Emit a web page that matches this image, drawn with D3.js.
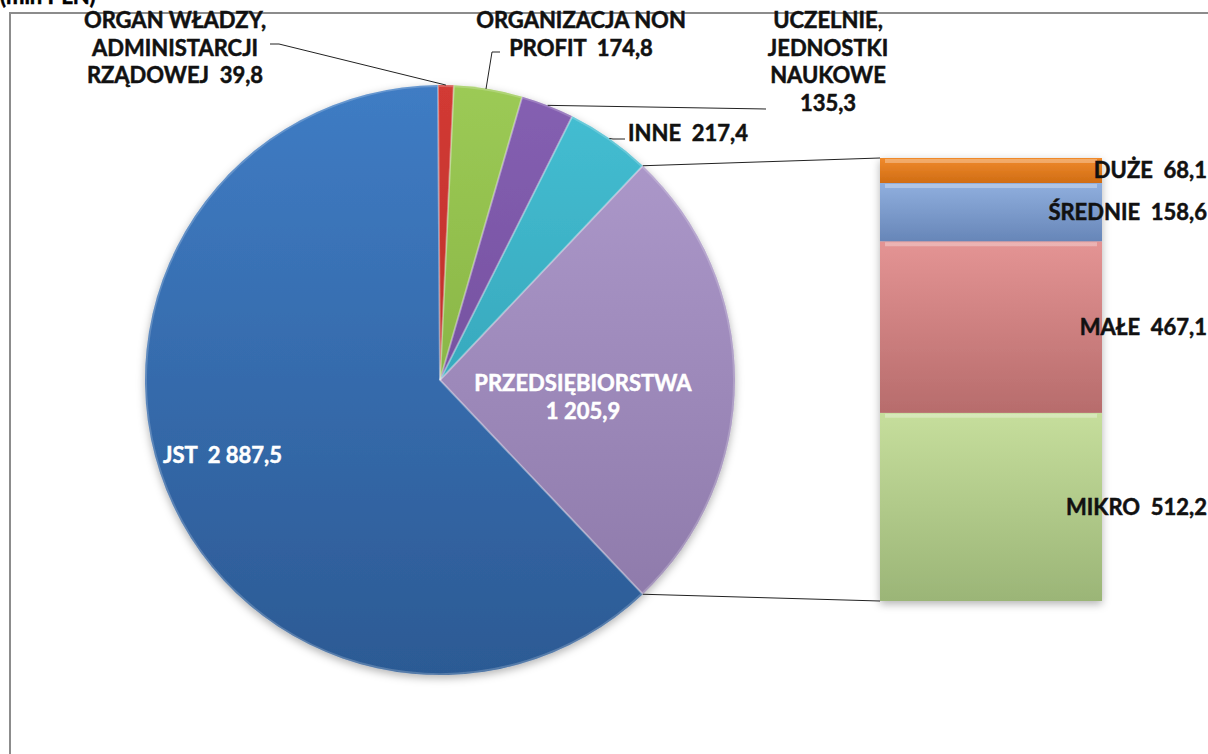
<!DOCTYPE html>
<html>
<head>
<meta charset="utf-8">
<script src="https://cdn.jsdelivr.net/npm/d3@7"></script>
<style>
  body { margin: 0; background: #fff; }
  svg { display: block; font-family: "Lato", "Open Sans", sans-serif; font-weight: bold; }
  text { white-space: pre; }
</style>
</head>
<body>
<script>
// pie slices (mln PLN), clockwise starting after the PRZEDSIĘBIORSTWA slice
const pieLabels = ["JST", "ORGAN WŁADZY, ADMINISTARCJI RZĄDOWEJ", "ORGANIZACJA NON PROFIT",
                   "UCZELNIE, JEDNOSTKI NAUKOWE", "INNE", "PRZEDSIĘBIORSTWA"];
const pieValues = [2887.5, 39.8, 174.8, 135.3, 217.4, 1205.9];
const pieTexts = ["2 887,5", "39,8", "174,8", "135,3", "217,4", "1 205,9"];

// breakdown of PRZEDSIĘBIORSTWA, bottom to top
const barLabels = ["MIKRO", "MAŁE", "ŚREDNIE", "DUŻE"];
const barValues = [512.2, 467.1, 158.6, 68.1];
const barTexts = ["512,2", "467,1", "158,6", "68,1"];

const W = 1208, H = 754;
const cx = 440, cy = 380, R = 295;
const FS = "22px";

const pieColors = [["#3f7cc4", "#2c5a94"], ["#d23a34", "#a82722"], ["#9cca55", "#78a23a"],
                   ["#8560b2", "#66438f"], ["#45bfd3", "#2a93a8"], ["#b09cce", "#8a76a6"]];
const barColors = [["#c6de9c", "#9bb577"], ["#e49494", "#b76c6c"], ["#90afde", "#6786b8"], ["#f08a2c", "#d06d14"]];

const svg = d3.select("body").append("svg")
    .attr("width", W)
    .attr("height", H);

const defs = svg.append("defs");

const shadow = defs.append("filter").attr("id", "shadow")
    .attr("x", "-10%").attr("y", "-10%").attr("width", "120%").attr("height", "120%");
shadow.append("feDropShadow").attr("dx", 0).attr("dy", 3).attr("stdDeviation", 4)
    .attr("flood-color", "#000").attr("flood-opacity", 0.3);

pieColors.forEach(function(c, i) {
    const g = defs.append("linearGradient").attr("id", "pg" + i)
        .attr("gradientUnits", "userSpaceOnUse")
        .attr("x1", 0).attr("y1", -R).attr("x2", 0).attr("y2", R);
    g.append("stop").attr("offset", "0%").attr("stop-color", c[0]);
    g.append("stop").attr("offset", "100%").attr("stop-color", c[1]);
});
barColors.forEach(function(c, i) {
    const g = defs.append("linearGradient").attr("id", "bg" + i)
        .attr("x1", 0).attr("y1", 0).attr("x2", 0).attr("y2", 1);
    g.append("stop").attr("offset", "0%").attr("stop-color", c[0]);
    g.append("stop").attr("offset", "100%").attr("stop-color", c[1]);
});

// cut-off title + frame
svg.append("text")
    .attr("x", 0).attr("y", 4)
    .attr("font-size", FS)
    .attr("fill", "#000")
    .attr("stroke", "#000").attr("stroke-width", 0.5)
    .text("(mln PLN)");

svg.append("rect")
    .attr("x", 10).attr("y", 13)
    .attr("width", W + 10).attr("height", H + 10)
    .attr("fill", "#fff")
    .attr("stroke", "#8c8c8c")
    .attr("stroke-width", 2);

// pie, PRZEDSIĘBIORSTWA centred on the right (90°)
const total = d3.sum(pieValues);
const lastAngle = pieValues[5] / total * 2 * Math.PI;
const start = Math.PI / 2 + lastAngle / 2;

const pie = d3.pie().sort(null).startAngle(start).endAngle(start + 2 * Math.PI);
const arcs = pie(pieValues);
const arc = d3.arc().innerRadius(0).outerRadius(R);

const gPie = svg.append("g").attr("transform", "translate(" + cx + "," + cy + ")");

gPie.append("g").attr("filter", "url(#shadow)")
    .selectAll("path")
    .data(arcs)
    .enter().append("path")
    .attr("d", arc)
    .attr("fill", function(d, i) { return "url(#pg" + i + ")"; });

// soft bevel on slice edges
gPie.append("g")
    .selectAll("path")
    .data(arcs)
    .enter().append("path")
    .attr("d", d3.arc().innerRadius(0).outerRadius(R - 1))
    .attr("fill", "none")
    .attr("stroke", "rgba(255,255,255,0.2)")
    .attr("stroke-width", 2);

// bar of pie
const barTop = 158, barBottom = 601, barX = 880, barW = 222;
const y = d3.scaleLinear().domain([0, d3.sum(barValues)]).range([barBottom, barTop]);
let acc = 0;
const stacks = barValues.map(function(v, i) {
    const s = { y0: acc, y1: acc + v, i: i };
    acc += v;
    return s;
});

const gBar = svg.append("g").attr("filter", "url(#shadow)");
gBar.selectAll("rect")
    .data(stacks)
    .enter().append("rect")
    .attr("x", barX)
    .attr("y", function(d) { return y(d.y1); })
    .attr("width", barW)
    .attr("height", function(d) { return y(d.y0) - y(d.y1); })
    .attr("fill", function(d) { return "url(#bg" + d.i + ")"; });

gBar.selectAll("line.hl")
    .data(stacks)
    .enter().append("line")
    .attr("x1", barX + 5).attr("x2", barX + barW - 5)
    .attr("y1", function(d) { return y(d.y1) + 3; })
    .attr("y2", function(d) { return y(d.y1) + 3; })
    .attr("stroke", "rgba(255,255,255,0.3)")
    .attr("stroke-width", 4);

// connector lines from the PRZEDSIĘBIORSTWA slice to the bar
const pa = arcs[5];
function edge(a) { return [cx + R * Math.sin(a), cy - R * Math.cos(a)]; }
const pTop = edge(pa.startAngle), pBot = edge(pa.endAngle);
svg.append("line")
    .attr("x1", pTop[0]).attr("y1", pTop[1]).attr("x2", barX).attr("y2", barTop)
    .attr("stroke", "#222").attr("stroke-width", 1);
svg.append("line")
    .attr("x1", pBot[0]).attr("y1", pBot[1]).attr("x2", barX).attr("y2", barBottom)
    .attr("stroke", "#222").attr("stroke-width", 1);

// bar labels
svg.append("g").selectAll("text")
    .data(stacks)
    .enter().append("text")
    .attr("x", 1207)
    .attr("y", function(d) { return (y(d.y0) + y(d.y1)) / 2; })
    .attr("dy", "0.35em")
    .attr("text-anchor", "end")
    .attr("font-size", FS)
    .attr("fill", "#111")
    .attr("stroke", "#111").attr("stroke-width", 0.5)
    .text(function(d) { return barLabels[d.i] + "  " + barTexts[d.i]; });

// pie labels
function multi(lines, x, y0, anchor, color) {
    const t = svg.append("text")
        .attr("font-size", FS)
        .attr("fill", color)
        .attr("stroke", color).attr("stroke-width", 0.5)
        .attr("text-anchor", anchor);
    lines.forEach(function(l, k) {
        t.append("tspan").attr("x", x).attr("y", y0 + k * 27.7).text(l);
    });
}

multi(["JST  " + pieTexts[0]], 163, 463, "start", "#fff");
multi(["PRZEDSIĘBIORSTWA", pieTexts[5]], 583, 391, "middle", "#fff");
multi(["ORGAN WŁADZY,", "ADMINISTARCJI", "RZĄDOWEJ  " + pieTexts[1]], 175, 28, "middle", "#111");
multi(["ORGANIZACJA NON", "PROFIT  " + pieTexts[2]], 581, 28, "middle", "#111");
multi(["UCZELNIE,", "JEDNOSTKI", "NAUKOWE", pieTexts[3]], 828, 28, "middle", "#111");
multi(["INNE  " + pieTexts[4]], 628, 141, "start", "#111");

// leader lines
function mid(d) { return (d.startAngle + d.endAngle) / 2; }
function leader(pts) {
    svg.append("path")
        .attr("d", d3.line()(pts))
        .attr("fill", "none")
        .attr("stroke", "#222")
        .attr("stroke-width", 1);
}
leader([[270, 44], [279, 44], edge(mid(arcs[1]))]);
leader([[500, 52], [492, 52], [486, 89]]);
leader([[766, 109], edge(mid(arcs[3]))]);
leader([[625, 139], [613, 139], edge(mid(arcs[4]))]);
</script>
</body>
</html>
